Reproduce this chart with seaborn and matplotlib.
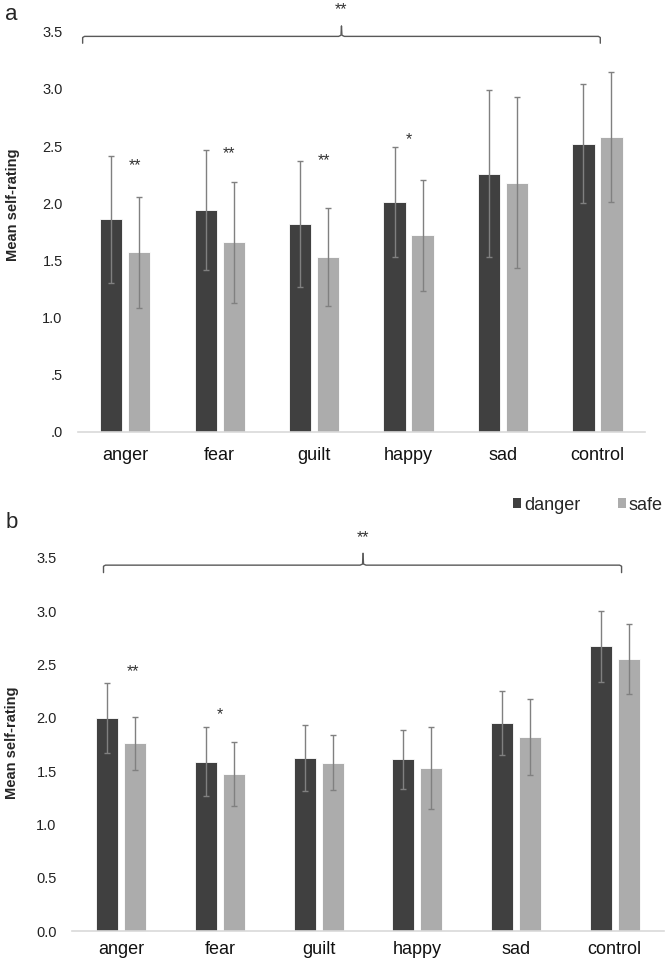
import numpy as np
import pandas as pd
import matplotlib
matplotlib.use('Agg')
import matplotlib.pyplot as plt
import seaborn as sns
from matplotlib.patches import Patch

# data
categories = ['anger', 'fear', 'guilt', 'happy', 'sad', 'control']
conditions = ['danger', 'safe']

a_danger = [1.86, 1.94, 1.82, 2.01, 2.26, 2.52]
a_safe = [1.57, 1.66, 1.53, 1.72, 2.18, 2.58]
a_danger_err = [0.555, 0.525, 0.55, 0.48, 0.73, 0.52]
a_safe_err = [0.485, 0.53, 0.425, 0.485, 0.75, 0.57]

b_danger = [2.00, 1.59, 1.62, 1.61, 1.95, 2.67]
b_safe = [1.76, 1.47, 1.58, 1.53, 1.82, 2.55]
b_danger_err = [0.33, 0.325, 0.31, 0.28, 0.30, 0.335]
b_safe_err = [0.25, 0.30, 0.26, 0.385, 0.36, 0.33]

a_ticklabels = ['.0', '.5', '1.0', '1.5', '2.0', '2.5', '3.0', '3.5']
b_ticklabels = ['0.0', '0.5', '1.0', '1.5', '2.0', '2.5', '3.0', '3.5']

# significance marks: (category, label, y)
a_stars = [('anger', '**', 2.37), ('fear', '**', 2.47), ('guilt', '**', 2.41), ('happy', '*', 2.59)]
b_stars = [('anger', '**', 2.47), ('fear', '*', 2.07)]

sns.set_style('white')
plt.rcParams['font.family'] = ['Liberation Sans', 'DejaVu Sans']

colors = {'danger': '#404040', 'safe': '#acacac'}
err_color = '#808080'
line_color = '#595959'


def make_df(danger, safe, danger_err, safe_err):
    return pd.DataFrame({
        'emotion': categories * 2,
        'condition': ['danger'] * len(categories) + ['safe'] * len(categories),
        'rating': danger + safe,
        'err': danger_err + safe_err,
    })


def draw_panel(ax, df, width, ticklabels, stars, star_dx, brace, label_xy, xpad):
    sns.barplot(data=df, x='emotion', y='rating', hue='condition', order=categories,
                hue_order=conditions, palette=colors, errorbar=None, width=width,
                gap=0.21, edgecolor='white', linewidth=0.6, legend=False, ax=ax)
    # error bars at the bar centres
    for cont, cond in zip(ax.containers, conditions):
        sub = df[df.condition == cond].set_index('emotion').loc[categories]
        xs = [p.get_x() + p.get_width() / 2 for p in cont.patches]
        ax.errorbar(xs, sub['rating'], yerr=sub['err'], fmt='none', ecolor=err_color,
                    elinewidth=1, capsize=2.5, capthick=1)
    ax.set_xlim(-0.5, len(categories) - 0.5)
    ax.set_ylim(0, 3.5)
    ax.set_yticks(np.arange(0, 3.51, 0.5))
    ax.set_yticklabels(ticklabels)
    ax.tick_params(axis='y', length=0, pad=11, labelsize=10.5, labelcolor='#222222')
    ax.tick_params(axis='x', length=0, pad=xpad, labelsize=13, labelcolor='#111111')
    ax.set_xlabel('')
    ax.set_ylabel('Mean self-rating', fontsize=10.5, fontweight='bold')
    ax.yaxis.set_label_coords(*label_xy)
    for s in ['top', 'right', 'left']:
        ax.spines[s].set_visible(False)
    ax.spines['bottom'].set_color('#d9d9d9')
    ax.spines['bottom'].set_linewidth(1.2)

    for cat, txt, y in stars:
        x = categories.index(cat) + (star_dx if txt == '**' else 0.0)
        ax.annotate(txt, (x, y), xytext=(0, -3), textcoords='offset points',
                    ha='center', va='center', fontsize=11.5, color='#333333',
                    annotation_clip=False)

    # brace across all emotions
    x0, x1, xt, yb, ye, ytip, ystar = brace
    kw = dict(color=line_color, lw=1, clip_on=False, solid_joinstyle='round')
    ax.plot([x0, x0, x0 + 0.02, xt - 0.03, xt - 0.005, xt],
            [ye, yb - 0.01, yb, yb, yb + 0.01, ytip], **kw)
    ax.plot([xt, xt + 0.005, xt + 0.03, x1 - 0.02, x1, x1],
            [ytip, yb + 0.01, yb, yb, yb - 0.01, ye], **kw)
    ax.annotate('**', (xt, ystar), xytext=(0, -3), textcoords='offset points',
                ha='center', va='center', fontsize=11.5, color='#333333',
                annotation_clip=False)


fig = plt.figure(figsize=(6.66, 9.64), dpi=100)
ax_a = fig.add_axes([0.117, 0.552, 0.851, 0.415])
ax_b = fig.add_axes([0.108, 0.034, 0.889, 0.3875])

draw_panel(ax_a, make_df(a_danger, a_safe, a_danger_err, a_safe_err), 0.593,
           a_ticklabels, a_stars, 0.1, (-0.45, 5.03, 2.29, 3.46, 3.40, 3.55, 3.73),
           (-0.102, 0.567), 11)
draw_panel(ax_b, make_df(b_danger, b_safe, b_danger_err, b_safe_err), 0.567,
           b_ticklabels, b_stars, 0.12, (-0.18, 5.07, 2.45, 3.43, 3.36, 3.54, 3.73),
           (-0.090, 0.505), 7)

fig.text(0.008, 0.985, 'a', fontsize=16, va='center', ha='left')
fig.text(0.008, 0.458, 'b', fontsize=16, va='center', ha='left')

handles = [Patch(facecolor=colors[c], edgecolor='none', label=c) for c in conditions]
fig.legend(handles=handles, loc='center right', bbox_to_anchor=(1.006, 0.476), ncol=2,
           frameon=False, fontsize=13, handlelength=0.45, handleheight=0.45,
           handletextpad=0.15, columnspacing=2.1, borderaxespad=0)

fig.savefig('out.png', dpi=100)
